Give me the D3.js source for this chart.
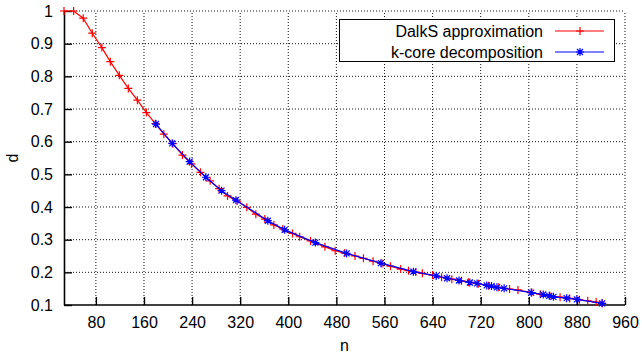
<!DOCTYPE html>
<html>
<head>
<meta charset="utf-8">
<script src="https://cdn.jsdelivr.net/npm/d3@7"></script>
<style>
  body { margin: 0; background: #fff; }
  text { font-family: "Liberation Sans", Arial, sans-serif; fill: #000; }
</style>
</head>
<body>
<div id="chart"></div>
<script>
// DalkS approximation (n, d)
const dalksN = [27, 43, 59, 74, 90, 104, 119, 134, 149, 164, 179, 193, 208, 224, 239, 254, 270, 285, 299, 315,
  331, 346, 361, 376, 391, 407, 419, 437, 461, 478, 494, 511, 525, 541, 556, 570, 587, 600, 612, 623,
  640, 655, 672, 688, 700, 716, 733, 750, 768, 782, 805, 819, 835, 852, 868, 884, 898, 912, 922];
const dalksD = [1.0, 1.0, 0.978, 0.932, 0.888, 0.845, 0.803, 0.763, 0.727, 0.689, 0.655, 0.623, 0.594, 0.559, 0.532, 0.506, 0.480, 0.456, 0.434, 0.418,
  0.399, 0.378, 0.363, 0.345, 0.333, 0.319, 0.309, 0.296, 0.278, 0.266, 0.259, 0.250, 0.243, 0.234, 0.227, 0.219, 0.210, 0.205, 0.201, 0.197,
  0.191, 0.185, 0.179, 0.174, 0.170, 0.165, 0.159, 0.154, 0.149, 0.146, 0.138, 0.133, 0.128, 0.124, 0.120, 0.116, 0.113, 0.109, 0.105];

// k-core decomposition (n, d)
const kcoreN = [180, 207, 236, 263, 289, 313, 366, 394, 445, 497, 554, 608, 646, 664, 684, 702, 714, 730, 738, 747,
  759, 804, 824, 834, 841, 863, 880, 922];
const kcoreD = [0.654, 0.595, 0.539, 0.491, 0.450, 0.421, 0.358, 0.330, 0.291, 0.258, 0.228, 0.202, 0.189, 0.182, 0.175, 0.169, 0.166, 0.160, 0.158, 0.154,
  0.151, 0.138, 0.132, 0.128, 0.125, 0.121, 0.117, 0.105];

const xTicks = [80, 160, 240, 320, 400, 480, 560, 640, 720, 800, 880, 960];
const yTicks = [0.1, 0.2, 0.3, 0.4, 0.5, 0.6, 0.7, 0.8, 0.9, 1];

const W = 642, H = 356;
const svg = d3.select("#chart").append("svg")
    .attr("width", W).attr("height", H);

let x = d3.scaleLinear().domain([27, 960]).range([64, 625]);
let y = d3.scaleLinear().domain([0.1, 1]).range([305, 11]);

// grid
svg.append("g").selectAll("line").data(xTicks).enter().append("line")
    .attr("x1", d => x(d)).attr("x2", d => x(d))
    .attr("y1", y(0.1)).attr("y2", y(1))
    .attr("stroke", "#111").attr("stroke-width", 1).attr("stroke-dasharray", "1,2");
svg.append("g").selectAll("line").data(yTicks.slice(1)).enter().append("line")
    .attr("x1", x(27)).attr("x2", x(960))
    .attr("y1", d => y(d)).attr("y2", d => y(d))
    .attr("stroke", "#111").attr("stroke-width", 1).attr("stroke-dasharray", "1,2");

// axes
let xAxis = svg.append("g")
    .attr("transform", "translate(0," + y(0.1) + ")")
    .call(d3.axisBottom(x).tickValues(xTicks).tickSizeInner(-8).tickSizeOuter(0).tickPadding(12).tickFormat(d3.format("d")));
let yAxis = svg.append("g")
    .attr("transform", "translate(" + x(27) + ",0)")
    .call(d3.axisLeft(y).tickValues(yTicks).tickSizeInner(-8).tickSizeOuter(0).tickPadding(11).tickFormat(d => d === 1 ? "1" : d3.format(".1f")(d)));
[xAxis, yAxis].forEach(a => {
    a.select(".domain").attr("stroke", "#000").attr("stroke-width", 1.6);
    a.selectAll(".tick line").attr("stroke", "#000").attr("stroke-width", 1.4);
    a.selectAll(".tick text").style("font-size", "16px").attr("fill", "#000");
});
xAxis.select(".domain").attr("d", "M" + x(27) + ",0H" + x(960));

// series
const plus = "M-4,0H4M0,-4V4";
const star = "M-4,0H4M0,-4V4M-3,-3L3,3M-3,3L3,-3";
const series = [
    { n: dalksN, d: dalksD, color: "#ff0000", sym: plus },
    { n: kcoreN, d: kcoreD, color: "#0000ff", sym: star }
];
const line = d3.line().x(p => x(p[0])).y(p => y(p[1]));
series.forEach(s => {
    let pts = s.n.map((v, i) => [v, s.d[i]]);
    svg.append("path").datum(pts)
        .attr("d", line).attr("fill", "none")
        .attr("stroke", s.color).attr("stroke-width", 1.2);
    svg.append("g").selectAll("path").data(pts).enter().append("path")
        .attr("transform", p => "translate(" + x(p[0]) + "," + y(p[1]) + ")")
        .attr("d", s.sym).attr("fill", "none")
        .attr("stroke", s.color).attr("stroke-width", 1.2);
});

// axis labels
svg.append("text").attr("x", x(27) + (x(960) - x(27)) / 2).attr("y", 351)
    .attr("text-anchor", "middle").style("font-size", "16px").text("n");
svg.append("text").attr("transform", "translate(18,158) rotate(-90)")
    .attr("text-anchor", "middle").style("font-size", "16px").text("d");

// legend
let legend = svg.append("g");
legend.append("rect").attr("x", 339.5).attr("y", 19.5).attr("width", 275).attr("height", 42)
    .attr("fill", "#fff").attr("stroke", "#000").attr("stroke-width", 1);
const legendNames = ["DalkS approximation", "k-core decomposition"];
legendNames.forEach((name, i) => {
    let cy = 31 + i * 21;
    legend.append("text").attr("x", 543).attr("y", cy + 6)
        .attr("text-anchor", "end").style("font-size", "16px").text(name);
    legend.append("line").attr("x1", 555).attr("x2", 604).attr("y1", cy).attr("y2", cy)
        .attr("stroke", series[i].color).attr("stroke-width", 1.2);
    legend.append("path").attr("transform", "translate(580," + cy + ")")
        .attr("d", series[i].sym).attr("fill", "none")
        .attr("stroke", series[i].color).attr("stroke-width", 1.2);
});
</script>
</body>
</html>
